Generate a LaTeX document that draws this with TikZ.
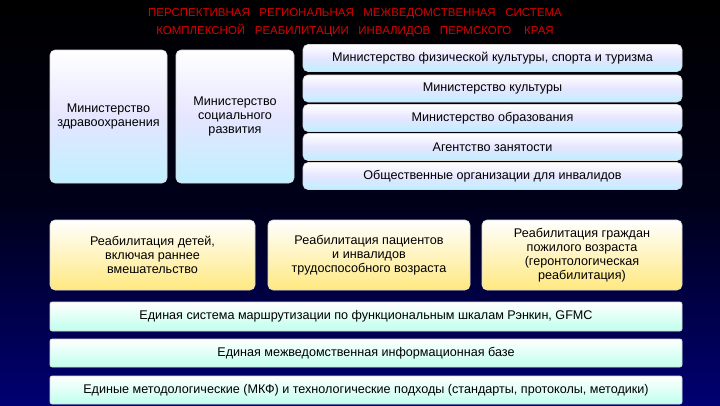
\documentclass[tikz,border=0pt]{standalone}
\usepackage{fontspec}
\setmainfont{Liberation Sans}
\begin{document}
\begin{tikzpicture}[x=1pt,y=-1pt,
  base/.style={rounded corners=5pt,draw=white!85!black,line width=0.6pt,align=center,font=\fontsize{12.6}{14}\selectfont,text=black,inner sep=0pt},
  bluebox/.style={base,top color=white,bottom color=blue!25!cyan!25!white,middle color=blue!10!white},
  orangebox/.style={base,top color=white,bottom color=orange!35!yellow!50},
  greenbox/.style={base,rounded corners=2pt,top color=white,bottom color=green!30!cyan!25}]
\shade[top color=black,bottom color=blue!45!black,middle color=black!90!blue] (0,0) rectangle (720,405);
\useasboundingbox (0,0) rectangle (720,405);
\node (t1) [text=red!85!black,font=\fontsize{11.5}{12}\selectfont] at (355,14) {ПЕРСПЕКТИВНАЯ\ \ \ РЕГИОНАЛЬНАЯ\ \ \ МЕЖВЕДОМСТВЕННАЯ\ \ \ СИСТЕМА};
\node (t2) [text=red!85!black,font=\fontsize{11.5}{12}\selectfont] at (355,30) {КОМПЛЕКСНОЙ\ \ \ РЕАБИЛИТАЦИИ\ \ \ ИНВАЛИДОВ\ \ \ ПЕРМСКОГО\ \ \ \ КРАЯ};
\node (a) [bluebox,minimum width=117,minimum height=133] at (108.5,116.5) {Министерство\\здравоохранения};
\node (b) [bluebox,minimum width=118,minimum height=133] at (235,116.5) {Министерство\\социального\\развития};
\foreach \n/\y/\t in {r1/58/{Министерство физической культуры, спорта и туризма}, r2/88.5/Министерство культуры, r3/118/Министерство образования, r4/147/Агентство занятости, r5/176/Общественные организации для инвалидов}
  \node (\n) [bluebox,minimum width=379,minimum height=27] at (492.5,\y) {\t};
\node (o1) [orangebox,minimum width=205,minimum height=70] at (152.5,255) {Реабилитация детей,\\включая раннее\\вмешательство};
\node (o2) [orangebox,minimum width=202,minimum height=70] at (369,255) {Реабилитация пациентов\\и инвалидов\\трудоспособного возраста};
\node (o3) [orangebox,minimum width=200,minimum height=70] at (582,255) {Реабилитация граждан\\пожилого возраста\\(геронтологическая\\реабилитация)};
\node (g1) [greenbox,minimum width=632,minimum height=29] at (366,316.5) {Единая система маршрутизации по функциональным шкалам Рэнкин, GFMC};
\node (g2) [greenbox,minimum width=632,minimum height=28] at (366,353) {Единая межведомственная информационная базе};
\node (g3) [greenbox,minimum width=632,minimum height=28] at (366,390) {Единые методологические (МКФ) и технологические подходы (стандарты, протоколы, методики)};
\end{tikzpicture}
\end{document}
